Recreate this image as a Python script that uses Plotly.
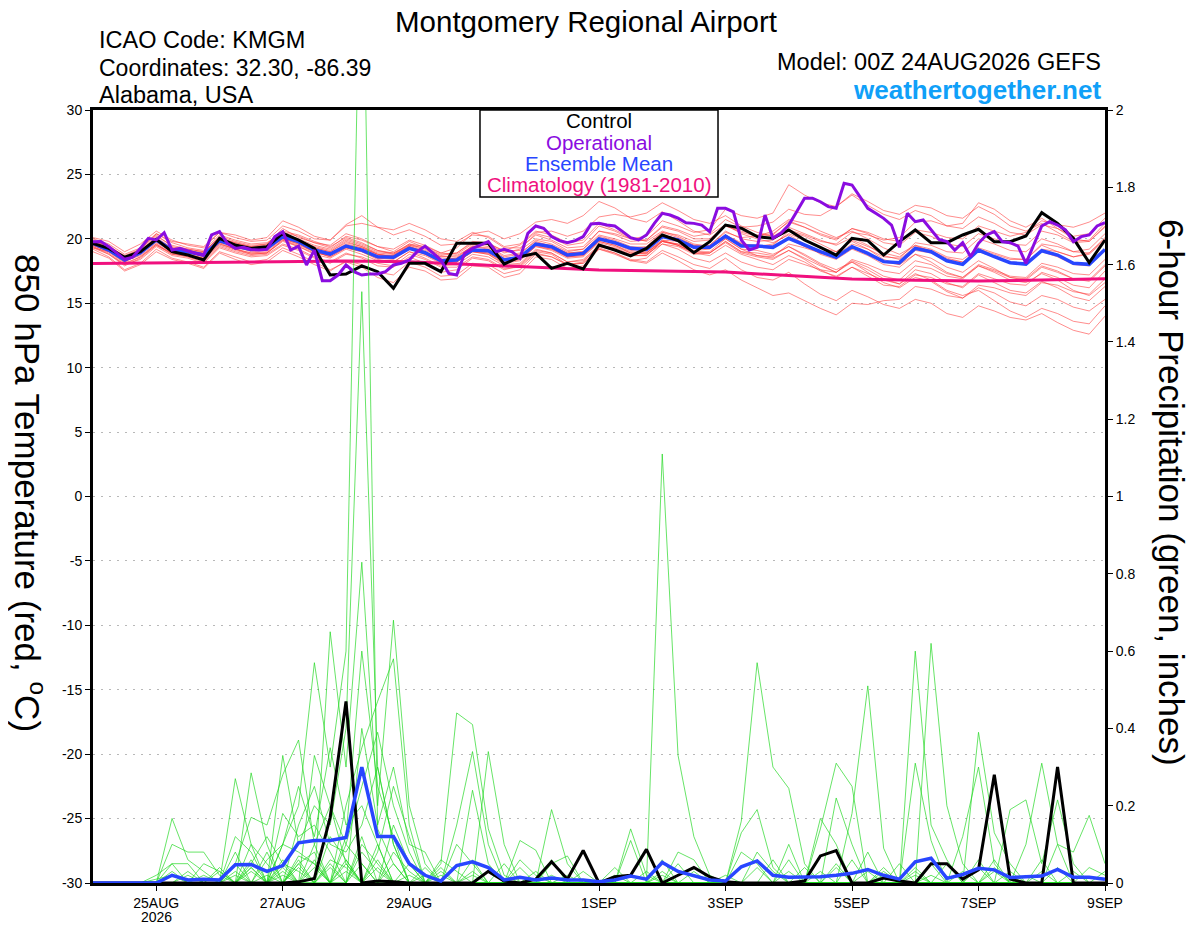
import plotly.graph_objects as go
import pandas as pd

# 6-hourly GEFS steps, operational run is 3-hourly
times = pd.date_range("2026-08-24 00:00", periods=65, freq="6h")
times_op = pd.date_range("2026-08-24 00:00", periods=129, freq="3h")
clim_days = pd.date_range("2026-08-24", periods=17, freq="D")

tick_dates = ["2026-08-25", "2026-08-27", "2026-08-29", "2026-09-01",
              "2026-09-03", "2026-09-05", "2026-09-07", "2026-09-09"]
tick_labels = ["25AUG", "27AUG", "29AUG", "1SEP", "3SEP", "5SEP", "7SEP", "9SEP"]
year_label = "2026"

temp_ticks = [-30, -25, -20, -15, -10, -5, 0, 5, 10, 15, 20, 25, 30]
precip_ticks = [0, 0.2, 0.4, 0.6, 0.8, 1, 1.2, 1.4, 1.6, 1.8, 2]
precip_tick_labels = ["0", "0.2", "0.4", "0.6", "0.8", "1", "1.2", "1.4", "1.6", "1.8", "2"]

control_temp = [19.65, 19.26, 18.57, 19.0, 19.96, 19.0, 18.74, 18.36, 20.04, 19.52, 19.26, 19.39,
                20.43, 19.91, 19.26, 17.19, 17.27, 17.9, 17.45, 16.16, 18.1, 18.1, 17.45, 19.65,
                19.65, 19.65, 18.04, 18.61, 18.87, 17.71, 18.1, 17.66, 19.52, 19.13, 18.67, 19.26,
                20.3, 19.86, 18.92, 19.78, 21.07, 20.82, 20.17, 20.04, 20.69, 19.91, 19.34, 18.74,
                20.04, 19.86, 18.74, 19.78, 20.69, 19.7, 19.7, 20.3, 20.74, 19.78, 19.78, 20.22,
                22.03, 21.2, 20.04, 18.15, 19.91]

mean_temp = [19.65, 19.13, 18.36, 18.92, 19.91, 19.13, 19.0, 18.74, 19.86, 19.44, 19.18, 19.26,
             20.17, 19.78, 19.13, 18.82, 19.44, 19.13, 18.61, 18.57, 19.26, 18.92, 18.3, 18.36,
             19.13, 19.08, 18.36, 18.57, 19.6, 19.39, 18.74, 18.87, 20.0, 19.7, 19.26, 19.18,
             20.17, 19.91, 19.34, 19.34, 20.22, 19.44, 19.44, 19.34, 20.04, 19.52, 19.0, 18.57,
             19.39, 18.87, 18.23, 18.15, 19.26, 19.0, 18.3, 18.02, 19.13, 18.61, 18.15, 18.04,
             19.08, 18.74, 18.1, 18.02, 19.18]

operational_temp = [19.78, 19.8, 19.39, 18.92, 18.41, 18.57, 19.26, 20.04, 19.91, 20.48, 19.13, 19.26,
                    19.05, 18.87, 18.74, 20.3, 20.56, 19.65, 19.26, 19.34, 19.18, 19.13, 19.18, 20.17,
                    20.56, 19.13, 19.44, 17.97, 19.13, 16.75, 16.75, 17.19, 17.97, 17.45, 17.19, 17.27,
                    17.27, 17.45, 17.97, 18.1, 18.36, 19.0, 19.44, 18.87, 18.36, 17.32, 17.19, 18.87,
                    19.26, 19.52, 19.78, 19.0, 19.18, 19.0, 18.49, 20.43, 21.0, 20.82, 20.17, 19.86,
                    19.7, 19.86, 20.17, 21.15, 21.2, 21.07, 21.0, 20.56, 20.09, 19.91, 20.3, 21.2,
                    21.98, 21.85, 21.6, 21.25, 21.2, 21.07, 20.56, 22.37, 22.37, 22.1, 19.91, 19.13,
                    19.34, 21.85, 20.04, 20.43, 21.07, 22.1, 23.15, 23.15, 22.88, 22.5, 22.37, 24.31,
                    24.18, 23.27, 22.37, 21.98, 21.59, 21.07, 19.34, 21.98, 21.33, 21.46, 20.74, 19.96,
                    19.78, 19.13, 19.7, 18.61, 19.65, 20.3, 20.56, 19.78, 19.7, 19.44, 18.1, 19.52,
                    21.0, 21.33, 21.07, 20.69, 19.78, 20.17, 20.3, 21.0, 21.25]

climatology_temp = [18.08, 18.12, 18.18, 18.24, 18.28, 18.22, 18.0, 17.75, 17.58, 17.5, 17.43,
                    17.15, 16.88, 16.78, 16.73, 16.8, 16.9]

member_temps = [
    [19.8, 19.5, 18.6, 19.2, 20.3, 19.4, 19.1, 18.9, 20.2, 19.8, 19.5, 19.6, 20.8, 20.1, 19.7, 19.3,
     20.2, 19.9, 19.4, 19.0, 19.8, 19.3, 18.7, 18.9, 19.7, 19.6, 18.9, 19.2, 20.4, 20.1, 19.5, 19.7,
     21.0, 20.6, 20.0, 20.2, 21.4, 21.0, 20.5, 20.7, 22.3, 21.8, 21.6, 22.0, 24.2, 23.4, 22.8, 22.5,
     23.4, 22.6, 21.9, 21.5, 22.2, 21.8, 21.0, 20.8, 21.7, 21.2, 20.5, 20.3, 21.1, 20.8, 20.2, 20.4, 21.6],
    [19.4, 18.8, 17.9, 18.5, 19.5, 18.9, 18.6, 18.2, 19.4, 19.0, 18.7, 18.8, 19.6, 19.2, 18.6, 18.2,
     18.9, 18.5, 17.9, 17.8, 18.6, 18.1, 17.4, 17.6, 18.5, 18.3, 17.6, 17.9, 19.0, 18.8, 18.0, 18.1,
     19.3, 18.9, 18.4, 18.2, 19.1, 18.6, 18.0, 17.7, 18.5, 17.6, 17.0, 16.8, 17.4, 16.5, 15.7, 15.2,
     16.0, 15.5, 14.9, 14.6, 15.3, 15.0, 14.2, 13.9, 14.8, 14.4, 13.9, 13.7, 14.2, 13.5, 12.9, 12.6, 14.0],
    [20.1, 19.8, 19.0, 19.6, 20.6, 19.9, 19.5, 19.3, 20.5, 20.3, 19.9, 20.1, 21.4, 20.9, 20.2, 19.9,
     21.1, 21.8, 20.9, 20.3, 20.7, 20.2, 19.5, 19.6, 20.3, 20.2, 19.4, 19.6, 20.6, 20.3, 19.7, 19.9,
     21.2, 20.7, 20.1, 19.8, 20.6, 20.2, 19.6, 19.4, 20.3, 19.7, 19.3, 19.5, 20.6, 20.2, 19.6, 19.0,
     19.9, 19.4, 18.9, 18.6, 19.5, 19.2, 18.6, 18.4, 19.3, 18.9, 18.5, 18.4, 19.5, 19.0, 18.6, 18.9, 20.0],
    [19.2, 18.6, 17.6, 18.1, 19.2, 18.5, 18.2, 17.8, 19.0, 18.6, 18.2, 18.4, 19.3, 18.8, 18.2, 17.6,
     18.2, 17.8, 17.0, 16.6, 17.8, 17.5, 16.8, 16.9, 17.9, 17.8, 17.0, 17.3, 18.6, 18.4, 17.7, 17.9,
     19.2, 18.8, 18.3, 18.5, 19.6, 19.4, 18.8, 18.9, 19.8, 19.0, 18.9, 18.7, 19.4, 18.8, 18.1, 17.6,
     18.2, 17.4, 16.6, 16.2, 17.0, 16.7, 15.9, 15.4, 16.2, 15.8, 15.1, 14.8, 15.6, 15.3, 14.7, 14.4, 15.3],
    [19.6, 19.2, 18.4, 19.0, 20.0, 19.3, 19.2, 19.0, 20.1, 19.7, 19.4, 19.5, 20.3, 19.9, 19.4, 19.1,
     19.9, 19.5, 19.0, 18.9, 19.6, 19.2, 18.6, 18.6, 19.4, 19.3, 18.6, 18.8, 19.9, 19.6, 19.0, 19.2,
     20.6, 20.4, 20.0, 19.9, 21.0, 20.7, 20.2, 20.4, 21.5, 20.9, 21.0, 21.3, 22.3, 21.9, 21.8, 22.5,
     23.5, 22.9, 22.2, 21.9, 22.6, 22.4, 21.8, 21.6, 22.5, 21.9, 21.0, 20.6, 21.2, 20.5, 19.8, 19.9, 21.2],
    [19.9, 19.4, 18.5, 18.8, 19.7, 19.0, 18.8, 18.5, 19.7, 19.5, 19.1, 19.3, 20.0, 19.7, 19.2, 18.9,
     19.6, 19.3, 18.8, 18.6, 19.4, 19.0, 18.4, 18.5, 19.2, 19.0, 18.3, 18.5, 19.5, 19.2, 18.6, 18.7,
     19.8, 19.5, 19.0, 18.9, 19.8, 19.5, 19.0, 18.9, 19.7, 18.9, 18.6, 18.4, 19.1, 18.4, 17.6, 17.0,
     17.8, 17.1, 16.4, 16.3, 17.2, 17.0, 16.5, 16.3, 17.3, 16.9, 16.5, 16.4, 17.4, 17.0, 16.4, 16.2, 17.5],
    [19.5, 19.0, 18.2, 18.9, 20.0, 19.2, 19.0, 18.6, 19.8, 19.3, 19.1, 19.2, 20.2, 19.8, 19.3, 19.0,
     19.7, 19.4, 18.9, 18.8, 19.6, 19.4, 18.9, 19.3, 20.4, 20.6, 20.0, 20.4, 21.3, 21.5, 21.2, 21.8,
     22.9, 22.4, 21.6, 21.3, 22.1, 21.4, 20.6, 20.3, 21.1, 20.4, 20.0, 19.7, 20.3, 19.6, 18.8, 18.4,
     19.2, 18.7, 18.0, 17.8, 18.8, 18.5, 17.8, 17.4, 18.3, 17.7, 17.0, 16.8, 17.8, 17.4, 16.9, 16.7, 17.9],
    [19.7, 19.1, 18.3, 18.7, 19.6, 18.8, 18.7, 18.4, 19.6, 19.2, 18.9, 18.9, 19.8, 19.4, 18.8, 18.5,
     19.2, 18.8, 18.3, 18.2, 19.0, 18.5, 17.9, 18.0, 18.8, 18.6, 17.9, 18.0, 19.1, 18.9, 18.2, 18.3,
     19.4, 19.1, 18.7, 18.7, 19.8, 19.6, 19.1, 19.2, 20.2, 19.6, 19.4, 19.6, 20.4, 19.9, 19.3, 19.0,
     19.8, 19.2, 18.4, 18.0, 18.8, 18.2, 17.4, 17.0, 17.9, 17.4, 16.8, 16.6, 17.3, 16.8, 16.0, 15.6, 16.6],
    [19.3, 19.0, 18.4, 19.1, 20.2, 19.5, 19.2, 19.0, 20.1, 19.6, 19.2, 19.2, 20.0, 19.6, 19.0, 18.7,
     19.5, 19.1, 18.5, 18.5, 19.3, 19.0, 18.4, 18.5, 19.5, 19.6, 19.1, 19.5, 20.5, 20.6, 20.2, 20.6,
     21.7, 21.9, 21.7, 22.0, 22.8, 22.2, 21.5, 21.2, 21.8, 21.0, 20.5, 20.2, 20.9, 20.4, 19.9, 19.5,
     20.1, 19.5, 18.7, 18.4, 19.4, 19.1, 18.5, 18.2, 19.0, 18.6, 18.2, 18.1, 19.2, 19.0, 18.6, 18.8, 19.9],
    [19.8, 19.4, 18.7, 19.2, 20.4, 19.7, 19.3, 19.1, 20.3, 19.9, 19.6, 19.7, 20.5, 20.2, 19.7, 19.5,
     20.4, 20.0, 19.4, 19.2, 19.9, 19.5, 18.9, 18.8, 19.6, 19.4, 18.7, 18.9, 19.8, 19.4, 18.9, 19.0,
     20.1, 19.8, 19.3, 19.4, 20.5, 20.3, 19.8, 19.9, 21.0, 20.6, 20.3, 20.4, 21.3, 20.9, 20.4, 20.0,
     20.8, 20.5, 20.0, 19.8, 20.7, 20.5, 20.1, 20.0, 21.0, 20.6, 20.2, 20.5, 21.4, 21.1, 20.9, 21.3, 22.0],
    [19.4, 18.9, 18.0, 18.4, 19.4, 18.7, 18.5, 18.1, 19.3, 18.9, 18.6, 18.7, 19.5, 19.1, 18.5, 18.1,
     18.8, 18.6, 18.1, 17.9, 18.8, 18.4, 17.8, 17.8, 18.6, 18.4, 17.7, 17.8, 18.9, 18.6, 18.0, 18.1,
     19.2, 18.9, 18.3, 18.1, 18.9, 18.3, 17.6, 17.2, 17.6, 16.8, 16.2, 15.6, 15.8, 15.2, 14.6, 14.1,
     15.0, 14.9, 15.2, 15.3, 16.3, 16.1, 15.6, 15.4, 16.4, 16.2, 15.8, 15.6, 16.6, 16.4, 15.9, 15.7, 16.9],
    [19.6, 19.3, 18.5, 19.0, 19.9, 19.1, 18.9, 18.7, 19.9, 19.6, 19.3, 19.4, 20.4, 20.0, 19.5, 19.2,
     20.0, 19.6, 19.1, 18.9, 19.5, 19.1, 18.6, 18.7, 19.4, 19.2, 18.5, 18.6, 19.7, 19.5, 18.9, 19.0,
     20.2, 19.9, 19.4, 19.3, 20.3, 20.0, 19.4, 19.4, 20.3, 19.6, 19.5, 19.3, 20.0, 19.4, 18.9, 18.5,
     19.3, 18.8, 18.2, 18.0, 19.1, 18.9, 18.3, 18.0, 19.1, 18.6, 18.1, 18.0, 19.0, 18.6, 18.0, 17.9, 19.1],
    [19.0, 18.5, 17.5, 18.0, 19.0, 18.4, 18.1, 17.7, 18.9, 18.4, 18.0, 18.2, 19.1, 18.6, 18.0, 17.5,
     18.3, 18.0, 17.4, 17.2, 18.2, 17.8, 17.1, 17.2, 18.1, 18.0, 17.3, 17.6, 18.8, 18.6, 18.0, 18.2,
     19.5, 19.2, 18.7, 18.7, 19.8, 19.6, 19.0, 19.0, 20.0, 19.2, 19.1, 18.8, 19.4, 18.7, 18.0, 17.4,
     18.2, 17.6, 16.9, 16.5, 17.6, 17.3, 16.6, 16.2, 17.2, 16.6, 16.0, 15.8, 16.7, 16.2, 15.5, 15.2, 16.3],
    [19.7, 19.2, 18.3, 18.9, 19.8, 19.1, 18.9, 18.6, 19.8, 19.4, 19.0, 19.1, 20.1, 19.7, 19.2, 18.8,
     19.5, 19.3, 18.8, 18.6, 19.3, 18.8, 18.2, 18.3, 19.1, 18.9, 18.2, 18.4, 19.4, 19.2, 18.6, 18.8,
     19.9, 19.7, 19.2, 19.2, 20.2, 20.0, 19.5, 19.5, 20.6, 20.0, 19.8, 19.9, 20.7, 20.3, 19.8, 19.6,
     20.5, 20.3, 19.9, 20.1, 21.3, 21.4, 21.0, 21.2, 22.8, 22.3, 21.4, 20.9, 21.6, 20.8, 20.0, 19.8, 20.9],
    [19.5, 19.0, 18.1, 18.6, 19.6, 18.9, 18.8, 18.5, 19.7, 19.2, 18.8, 18.9, 19.9, 19.4, 18.9, 18.7,
     19.4, 19.2, 18.7, 18.7, 19.5, 19.3, 18.8, 18.9, 19.8, 19.7, 19.0, 19.1, 20.0, 19.8, 19.1, 19.2,
     20.3, 20.0, 19.6, 19.6, 20.5, 20.1, 19.5, 19.3, 20.0, 19.2, 18.7, 18.5, 19.1, 18.5, 17.9, 17.4,
     18.3, 17.8, 17.1, 16.8, 17.9, 17.7, 17.1, 16.9, 17.9, 17.5, 17.0, 16.9, 17.9, 17.5, 16.9, 16.8, 18.0],
    [19.8, 19.3, 18.5, 19.0, 20.1, 19.3, 19.0, 18.8, 20.0, 19.5, 19.1, 19.3, 20.3, 19.8, 19.3, 19.0,
     19.8, 19.4, 18.8, 18.7, 19.4, 19.0, 18.4, 18.4, 19.2, 19.1, 18.4, 18.6, 19.6, 19.3, 18.7, 18.9,
     20.0, 19.6, 19.1, 19.0, 19.9, 19.5, 18.9, 18.7, 19.5, 18.8, 18.4, 18.0, 18.7, 18.2, 17.5, 17.1,
     17.8, 17.3, 16.8, 16.5, 17.3, 16.8, 16.0, 15.6, 16.0, 15.2, 14.4, 13.9, 14.6, 14.2, 13.6, 13.4, 14.8],
    [19.6, 19.1, 18.2, 18.8, 19.9, 19.2, 19.1, 18.9, 20.0, 19.7, 19.4, 19.6, 20.6, 20.3, 19.8, 19.4,
     20.1, 19.7, 19.1, 18.8, 19.4, 18.9, 18.3, 18.2, 19.0, 18.8, 18.0, 18.1, 19.2, 18.9, 18.2, 18.4,
     19.5, 19.3, 18.8, 18.9, 19.9, 19.8, 19.3, 19.5, 20.5, 20.1, 20.2, 20.6, 21.5, 21.2, 20.6, 20.1,
     20.6, 20.0, 19.3, 18.8, 19.5, 19.0, 18.4, 18.2, 19.2, 18.8, 18.4, 18.4, 19.6, 19.4, 19.0, 19.2, 20.4],
    [19.3, 18.8, 18.0, 18.6, 19.5, 18.8, 18.6, 18.3, 19.5, 19.1, 18.8, 18.9, 19.9, 19.5, 19.0, 18.6,
     19.3, 19.0, 18.4, 18.2, 19.0, 18.7, 18.1, 18.2, 19.0, 18.9, 18.2, 18.4, 19.5, 19.3, 18.6, 18.7,
     19.8, 19.5, 18.9, 18.8, 19.6, 19.2, 18.5, 18.2, 18.9, 18.2, 17.8, 17.6, 18.4, 18.0, 17.6, 17.4,
     18.4, 18.0, 17.5, 17.3, 18.3, 18.0, 17.3, 17.0, 18.0, 17.6, 17.1, 17.0, 18.1, 17.8, 17.3, 17.2, 18.4],
    [20.0, 19.6, 18.8, 19.3, 20.4, 19.8, 19.6, 19.4, 20.5, 20.1, 19.8, 19.9, 21.0, 20.6, 20.0, 19.9,
     21.0, 21.2, 20.9, 20.7, 21.2, 20.7, 20.0, 19.8, 20.5, 20.1, 19.3, 19.3, 20.3, 19.9, 19.3, 19.4,
     20.6, 20.3, 19.8, 19.9, 20.9, 20.6, 20.0, 20.0, 21.0, 20.5, 20.2, 20.3, 21.4, 20.9, 20.3, 19.9,
     20.8, 20.4, 19.7, 19.5, 20.5, 20.2, 19.6, 19.4, 20.4, 20.0, 19.6, 19.5, 20.6, 20.3, 19.7, 19.8, 21.0],
    [19.5, 19.1, 18.3, 18.9, 19.8, 19.0, 18.7, 18.4, 19.6, 19.2, 18.9, 19.0, 20.0, 19.6, 19.0, 18.6,
     19.3, 19.0, 18.5, 18.4, 19.2, 18.8, 18.2, 18.2, 19.0, 18.8, 18.1, 18.3, 19.4, 19.1, 18.5, 18.6,
     19.7, 19.4, 18.9, 18.9, 19.8, 19.5, 18.9, 18.9, 19.8, 19.0, 18.7, 18.6, 19.6, 19.3, 18.9, 18.7,
     19.6, 19.2, 18.6, 18.5, 19.7, 19.5, 19.0, 18.9, 20.0, 19.6, 19.1, 19.0, 20.0, 19.6, 19.0, 18.9, 20.1],
]

control_precip = [0, 0, 0, 0, 0, 0, 0, 0, 0, 0, 0, 0, 0, 0.003, 0.012, 0.17,
                  0.47, 0, 0.005, 0.003, 0, 0, 0, 0, 0, 0.03, 0.005, 0, 0.01, 0.055, 0.01, 0.084,
                  0, 0.016, 0.02, 0.087, 0, 0.02, 0.04, 0.016, 0.003, 0, 0, 0, 0, 0.005, 0.07, 0.084,
                  0, 0, 0.013, 0.005, 0, 0.05, 0.05, 0.01, 0.034, 0.28, 0.01, 0, 0, 0.30, 0, 0, 0]

mean_precip = [0, 0, 0, 0, 0, 0.02, 0.008, 0.01, 0.008, 0.047, 0.048, 0.03, 0.045, 0.104, 0.11, 0.11,
               0.118, 0.30, 0.12, 0.12, 0.05, 0.02, 0.005, 0.045, 0.055, 0.04, 0.008, 0.015, 0.008, 0.013, 0.008, 0.008,
               0.003, 0.008, 0.018, 0.01, 0.053, 0.03, 0.02, 0.008, 0.005, 0.042, 0.057, 0.02, 0.015, 0.016, 0.016, 0.02,
               0.025, 0.035, 0.02, 0.01, 0.055, 0.064, 0.012, 0.022, 0.038, 0.034, 0.014, 0.016, 0.018, 0.035, 0.015, 0.015, 0.01]

member_precips = [
    [0, 0, 0, 0, 0, 0.167, 0.06, 0.03, 0, 0.05, 0, 0, 0.1, 0.2, 0.57, 0.3,
     0.6, 2.65, 0.14, 0.05, 0, 0, 0, 0, 0.02, 0, 0, 0, 0, 0, 0, 0,
     0, 0, 0, 0, 0.03, 0, 0, 0, 0, 0, 0, 0, 0, 0, 0, 0,
     0, 0, 0, 0, 0.02, 0, 0, 0, 0, 0, 0, 0, 0, 0, 0, 0, 0],
    [0, 0, 0, 0, 0, 0.1, 0.08, 0.08, 0.02, 0, 0.285, 0.1, 0, 0.05, 0, 0.65,
     0.3, 0.83, 0.2, 0.68, 0.2, 0.05, 0, 0, 0, 0, 0, 0, 0, 0.19, 0.05, 0,
     0, 0, 0, 0, 0, 0, 0, 0, 0, 0, 0, 0, 0, 0, 0, 0.22,
     0.1, 0, 0, 0, 0, 0, 0, 0, 0.04, 0, 0, 0, 0, 0, 0, 0, 0],
    [0, 0, 0, 0, 0.02, 0.05, 0, 0, 0, 0.27, 0.1, 0, 0.33, 0.1, 0.2, 0.15,
     0.4, 1.53, 0.3, 0.1, 0, 0, 0.04, 0, 0, 0, 0, 0, 0, 0.06, 0, 0,
     0, 0, 0, 0, 0, 0, 0, 0, 0, 0, 0, 0, 0.06, 0, 0, 0,
     0, 0, 0, 0, 0, 0, 0, 0, 0, 0.03, 0, 0, 0, 0, 0, 0, 0],
    [0, 0, 0, 0, 0, 0, 0, 0, 0, 0.05, 0.17, 0.15, 0.28, 0.37, 0.1, 0,
     0.2, 0.35, 0.47, 0.58, 0.15, 0, 0.05, 0.44, 0.41, 0.14, 0.02, 0, 0, 0, 0, 0,
     0, 0, 0, 0, 0, 0, 0, 0, 0, 0, 0, 0, 0, 0, 0, 0,
     0, 0, 0.03, 0, 0, 0, 0, 0, 0, 0, 0, 0, 0, 0, 0, 0, 0],
    [0, 0, 0, 0, 0, 0.03, 0, 0, 0.04, 0, 0.05, 0.12, 0.05, 0, 0.33, 0.2,
     0.1, 0.25, 0.39, 0.2, 0.08, 0, 0, 0.15, 0.34, 0.1, 0, 0.11, 0.085, 0, 0, 0,
     0, 0, 0.14, 0.02, 0, 0, 0, 0, 0, 0, 0, 0, 0, 0, 0, 0,
     0, 0, 0, 0, 0, 0, 0, 0, 0, 0, 0, 0, 0, 0, 0, 0, 0],
    [0, 0, 0, 0, 0, 0, 0.03, 0, 0, 0.12, 0.08, 0, 0.18, 0.12, 0.15, 0.08,
     0, 0.4, 0.15, 0.3, 0.1, 0.08, 0, 0, 0, 0.34, 0.1, 0, 0, 0, 0, 0,
     0, 0, 0, 0, 1.11, 0.33, 0.12, 0.02, 0, 0, 0, 0, 0, 0, 0, 0,
     0, 0, 0, 0, 0, 0, 0, 0, 0, 0, 0, 0, 0, 0, 0, 0, 0],
    [0, 0, 0, 0, 0, 0, 0, 0, 0, 0, 0, 0.06, 0.1, 0.25, 0.12, 0.35,
     0.15, 0.2, 0.1, 0, 0.05, 0, 0.02, 0, 0.24, 0.05, 0, 0, 0, 0, 0, 0,
     0, 0, 0, 0, 0, 0, 0, 0, 0, 0.16, 0.57, 0.3, 0.245, 0.05, 0, 0,
     0, 0, 0, 0, 0, 0, 0, 0, 0, 0, 0, 0, 0, 0, 0, 0, 0],
    [0, 0, 0, 0, 0, 0, 0, 0.02, 0, 0, 0.04, 0, 0.1, 0.08, 0.05, 0,
     0.12, 0.6, 0.25, 0.12, 0, 0.04, 0, 0, 0, 0, 0, 0, 0, 0.05, 0.07, 0,
     0, 0, 0.11, 0, 0, 0, 0, 0, 0, 0.13, 0.19, 0.04, 0, 0, 0, 0,
     0.18, 0.51, 0.09, 0, 0, 0, 0, 0, 0, 0, 0, 0, 0, 0, 0, 0, 0],
    [0, 0, 0, 0, 0, 0.05, 0.05, 0, 0, 0, 0.1, 0.05, 0, 0.15, 0.25, 0.1,
     0.08, 0.15, 0.3, 0.1, 0, 0, 0, 0.1, 0.05, 0, 0, 0, 0, 0, 0, 0,
     0, 0, 0, 0, 0, 0, 0, 0, 0, 0, 0, 0, 0, 0, 0.167, 0.1,
     0, 0, 0, 0, 0.6, 0.15, 0.06, 0, 0, 0, 0, 0, 0, 0, 0, 0, 0],
    [0, 0, 0, 0, 0, 0, 0, 0, 0, 0.08, 0, 0, 0.06, 0, 0.1, 0.2,
     0.05, 0, 0.08, 0.25, 0.12, 0, 0, 0, 0, 0, 0, 0.06, 0.02, 0, 0, 0,
     0, 0, 0, 0, 0, 0, 0, 0, 0, 0, 0, 0, 0, 0, 0.14, 0.31,
     0.25, 0, 0, 0, 0, 0.62, 0.2, 0.05, 0, 0, 0, 0, 0, 0, 0, 0, 0],
    [0, 0, 0, 0, 0, 0, 0, 0, 0.03, 0, 0, 0.08, 0, 0.07, 0.05, 0,
     0.1, 0.05, 0, 0.15, 0.05, 0, 0, 0, 0, 0, 0.05, 0, 0, 0, 0, 0,
     0, 0.04, 0, 0, 0, 0, 0, 0, 0, 0, 0, 0, 0.1, 0, 0, 0,
     0, 0, 0, 0, 0.31, 0.11, 0, 0, 0.39, 0.13, 0.05, 0, 0, 0, 0, 0, 0],
    [0, 0, 0, 0, 0, 0, 0, 0, 0, 0, 0.06, 0, 0.04, 0, 0, 0.12,
     0.06, 0, 0.1, 0, 0, 0, 0.03, 0, 0, 0, 0, 0, 0, 0, 0, 0,
     0, 0, 0, 0, 0, 0.08, 0.06, 0, 0, 0, 0, 0, 0, 0, 0, 0,
     0, 0, 0, 0, 0, 0, 0, 0.12, 0.3, 0.05, 0, 0.1, 0.31, 0.1, 0, 0, 0],
    [0, 0, 0, 0, 0, 0, 0, 0, 0, 0.03, 0, 0, 0, 0.05, 0.08, 0,
     0, 0.1, 0.05, 0, 0, 0, 0, 0, 0.06, 0, 0, 0, 0, 0, 0, 0.03,
     0, 0, 0, 0, 0, 0, 0, 0, 0, 0, 0.08, 0.03, 0, 0, 0, 0,
     0, 0, 0.04, 0, 0, 0, 0, 0, 0, 0, 0.19, 0.215, 0.05, 0.215, 0.05, 0, 0],
    [0, 0, 0, 0, 0, 0, 0.02, 0, 0, 0, 0, 0, 0.03, 0, 0, 0.06,
     0.04, 0, 0, 0.05, 0, 0, 0, 0, 0, 0, 0, 0, 0, 0, 0, 0,
     0, 0, 0, 0, 0.06, 0, 0, 0, 0, 0, 0, 0, 0, 0.04, 0, 0,
     0, 0.08, 0, 0, 0, 0, 0.05, 0, 0, 0.06, 0, 0, 0, 0.1, 0.08, 0.175, 0.05],
    [0, 0, 0, 0, 0.01, 0.02, 0, 0, 0, 0, 0.03, 0, 0, 0.04, 0, 0,
     0, 0.08, 0.03, 0, 0, 0, 0, 0, 0, 0, 0, 0, 0, 0, 0, 0,
     0, 0, 0, 0, 0, 0, 0, 0, 0, 0.08, 0.05, 0, 0, 0, 0, 0,
     0.06, 0, 0, 0, 0.04, 0, 0, 0, 0, 0, 0, 0, 0.03, 0, 0, 0.04, 0.02],
    [0, 0, 0, 0, 0, 0, 0, 0, 0, 0, 0, 0.02, 0, 0, 0.04, 0,
     0.06, 0, 0, 0, 0.02, 0, 0, 0, 0, 0, 0, 0, 0.03, 0, 0, 0,
     0, 0, 0, 0.03, 0, 0, 0, 0, 0.02, 0, 0, 0.06, 0, 0, 0, 0.05,
     0, 0, 0, 0, 0, 0.05, 0, 0, 0, 0.04, 0, 0, 0, 0, 0.03, 0, 0],
    [0, 0, 0, 0, 0, 0, 0, 0.05, 0.03, 0, 0, 0, 0.05, 0.03, 0, 0.04,
     0, 0.12, 0, 0.08, 0.03, 0, 0, 0, 0, 0, 0, 0, 0, 0.02, 0, 0,
     0, 0, 0, 0, 0.02, 0, 0, 0, 0, 0, 0, 0, 0.03, 0, 0, 0,
     0, 0, 0.02, 0, 0, 0, 0, 0, 0.06, 0, 0, 0, 0.06, 0, 0, 0, 0],
    [0, 0, 0, 0, 0, 0, 0, 0, 0, 0.02, 0, 0, 0, 0, 0.06, 0,
     0.03, 0, 0.06, 0, 0, 0.02, 0, 0, 0, 0, 0, 0.04, 0, 0, 0, 0,
     0, 0, 0, 0, 0, 0.05, 0, 0, 0, 0, 0, 0, 0, 0, 0.03, 0,
     0, 0, 0, 0.05, 0, 0, 0, 0.03, 0, 0, 0, 0.02, 0, 0, 0, 0, 0.03],
    [0, 0, 0, 0, 0, 0, 0, 0, 0, 0, 0.04, 0, 0, 0.06, 0, 0.05,
     0, 0.05, 0, 0, 0, 0, 0, 0, 0.03, 0, 0, 0, 0, 0, 0, 0,
     0, 0.02, 0, 0, 0, 0, 0, 0, 0, 0, 0.04, 0, 0, 0, 0, 0,
     0, 0.03, 0, 0, 0, 0.02, 0, 0, 0, 0, 0, 0, 0, 0.04, 0, 0, 0],
    [0, 0, 0, 0, 0, 0, 0, 0, 0, 0, 0, 0, 0.02, 0, 0, 0,
     0.05, 0, 0.04, 0, 0, 0, 0.06, 0.03, 0, 0, 0, 0, 0, 0, 0.02, 0,
     0, 0, 0, 0, 0, 0, 0.03, 0, 0, 0, 0, 0, 0, 0, 0, 0.04,
     0, 0, 0, 0, 0.03, 0, 0, 0, 0, 0, 0.03, 0, 0, 0, 0, 0, 0],
]

FONT = "Liberation Sans, Arial, sans-serif"
PURPLE = "#8a0ce0"
BLUE = "#2846ff"
PINK = "#f0107e"

fig = go.Figure()

for vals in member_temps:
    fig.add_trace(go.Scatter(x=times[:len(vals)], y=vals, mode="lines",
                             line=dict(color="rgba(255,50,50,0.7)", width=0.8),
                             hoverinfo="skip", showlegend=False))

for vals in member_precips:
    fig.add_trace(go.Scatter(x=times[:len(vals)], y=vals, mode="lines", yaxis="y2",
                             line=dict(color="rgba(30,215,30,0.85)", width=0.8),
                             hoverinfo="skip", showlegend=False))

fig.add_trace(go.Scatter(x=clim_days, y=climatology_temp, mode="lines",
                         line=dict(color=PINK, width=3), showlegend=False))

fig.add_trace(go.Scatter(x=times[:len(control_precip)], y=control_precip, mode="lines", yaxis="y2",
                         line=dict(color="black", width=3), showlegend=False))
fig.add_trace(go.Scatter(x=times[:len(mean_precip)], y=mean_precip, mode="lines", yaxis="y2",
                         line=dict(color=BLUE, width=3.5), showlegend=False))

fig.add_trace(go.Scatter(x=times[:len(mean_temp)], y=mean_temp, mode="lines",
                         line=dict(color=BLUE, width=3.5), showlegend=False))
fig.add_trace(go.Scatter(x=times[:len(control_temp)], y=control_temp, mode="lines",
                         line=dict(color="black", width=3), showlegend=False))
fig.add_trace(go.Scatter(x=times_op[:len(operational_temp)], y=operational_temp, mode="lines",
                         line=dict(color=PURPLE, width=3), showlegend=False))

axis_font = dict(family=FONT, size=14, color="black")

# page body adds an 8px offset, so the figure is 8px smaller than the window
fig.update_layout(
    width=1192, height=919,
    margin=dict(l=85, r=95, t=102, b=44),
    paper_bgcolor="white", plot_bgcolor="white",
    font=dict(family=FONT, color="black"),
    showlegend=False,
    xaxis=dict(type="date", range=[times[0], times[-1]], automargin=False,
               tickvals=tick_dates, ticktext=tick_labels, tickfont=axis_font,
               ticks="outside", ticklen=5, tickcolor="black",
               showgrid=False, zeroline=False,
               showline=True, linewidth=3, linecolor="black", mirror=True),
    yaxis=dict(range=[-30, 30], tickvals=temp_ticks, ticktext=[str(v) for v in temp_ticks],
               automargin=False, tickfont=axis_font, ticks="outside", ticklen=5, tickcolor="black",
               showgrid=True, gridcolor="#b8b8b8", gridwidth=1, griddash="2px,6px",
               zeroline=False, showline=True, linewidth=3, linecolor="black"),
    yaxis2=dict(range=[0, 2], overlaying="y", side="right", automargin=False,
                tickvals=precip_ticks, ticktext=precip_tick_labels, tickfont=axis_font,
                ticks="outside", ticklen=5, tickcolor="black",
                showgrid=False, zeroline=False,
                showline=True, linewidth=3, linecolor="black"),
)

# year under the first date tick
fig.add_annotation(text=year_label, xref="x", yref="paper", x=tick_dates[0], y=-0.0442,
                   showarrow=False, xanchor="center", yanchor="middle", font=axis_font)

# legend box at top of plot
fig.add_shape(type="rect", xref="paper", yref="paper", x0=0.3824, x1=0.6176, y0=0.8874, y1=1.0,
              line=dict(color="black", width=1.5), fillcolor="white", layer="above")

legend_rows = [("Control", "black", 0.9858), ("Operational", PURPLE, 0.9586),
               ("Ensemble Mean", BLUE, 0.9314), ("Climatology (1981-2010)", PINK, 0.9030)]
for text, color, ypos in legend_rows:
    fig.add_annotation(text=text, xref="paper", yref="paper", x=0.5, y=ypos,
                       showarrow=False, xanchor="center", yanchor="middle",
                       font=dict(family=FONT, size=20.5, color=color))

header = [
    ("Montgomery Regional Airport", 0.4872, 1.1151, "center", 29.5),
    ("ICAO Code: KMGM", 0.0039, 1.0905, "left", 23.5),
    ("Coordinates: 32.30, -86.39", 0.0039, 1.0545, "left", 23),
    ("Alabama, USA", 0.0039, 1.0200, "left", 23.5),
    ("Model: 00Z 24AUG2026 GEFS", 0.998, 1.0621, "right", 23.5),
]
for text, xpos, ypos, anchor, size in header:
    fig.add_annotation(text=text, xref="paper", yref="paper", x=xpos, y=ypos,
                       showarrow=False, xanchor=anchor, yanchor="middle",
                       font=dict(family=FONT, size=size, color="black"))

fig.add_annotation(text="<b>weathertogether.net</b>", xref="paper", yref="paper", x=0.998, y=1.0255,
                   showarrow=False, xanchor="right", yanchor="middle",
                   font=dict(family=FONT, size=26, color="#10a0f8"))

fig.add_annotation(text="850 hPa Temperature (red, <sup>o</sup>C)", xref="paper", yref="paper",
                   x=-0.0623, y=0.5045, textangle=90, showarrow=False,
                   xanchor="center", yanchor="middle",
                   font=dict(family=FONT, size=35, color="black"))
fig.add_annotation(text="6-hour Precipitation (green, inches)", xref="paper", yref="paper",
                   x=1.0662, y=0.5045, textangle=90, showarrow=False,
                   xanchor="center", yanchor="middle",
                   font=dict(family=FONT, size=35, color="black"))

fig.write_html("out.html")
